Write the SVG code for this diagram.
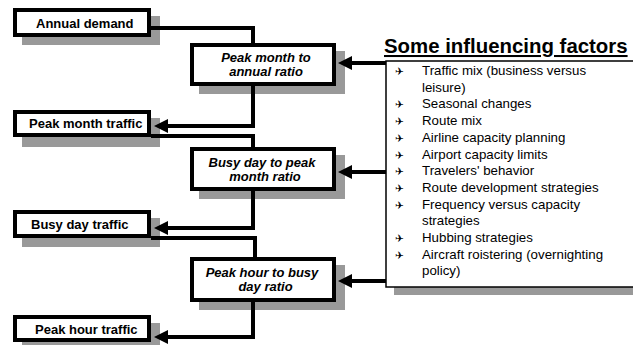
<svg xmlns="http://www.w3.org/2000/svg" width="633" height="345" viewBox="0 0 633 345">
<defs>
<style>
.box{fill:#fff;stroke:#000;stroke-width:4}
.sh{fill:#999}
.lbl{font-family:"Liberation Sans",Arial,sans-serif;font-weight:bold;font-size:13px;fill:#000}
.rat{font-family:"Liberation Sans",Arial,sans-serif;font-weight:bold;font-style:italic;font-size:13px;text-anchor:middle;fill:#000}
.conn{fill:none;stroke:#000;stroke-width:4}
.item{font-family:"Liberation Sans",Arial,sans-serif;font-size:13.3px;fill:#000}
.bul{font-family:"DejaVu Sans",sans-serif;font-size:10.5px;fill:#000}
.title{font-family:"Liberation Sans",Arial,sans-serif;font-weight:bold;font-size:20.4px;text-decoration:underline;fill:#000}
</style>
<marker id="ah" viewBox="0 0 14 14" refX="1" refY="7" markerWidth="14" markerHeight="14" markerUnits="userSpaceOnUse" orient="auto">
<path d="M0,0 L14,7 L0,14 z" fill="#000"/>
</marker>
</defs>
<rect width="633" height="345" fill="#fff"/>

<g id="factors">
<rect class="sh" x="394" y="69" width="300" height="226"/>
<rect x="386" y="61" width="300" height="226" fill="#fff" stroke="#000" stroke-width="1.5"/>
<text class="title" x="384" y="53">Some influencing factors</text>
<g class="bul">
<text x="395" y="75">✈</text>
<text x="395" y="108.4">✈</text>
<text x="395" y="125.1">✈</text>
<text x="395" y="141.8">✈</text>
<text x="395" y="158.5">✈</text>
<text x="395" y="175.2">✈</text>
<text x="395" y="191.9">✈</text>
<text x="395" y="208.6">✈</text>
<text x="395" y="242">✈</text>
<text x="395" y="258.7">✈</text>
</g>
<g class="item">
<text x="422" y="75">Traffic mix (business versus</text>
<text x="422" y="91.7">leisure)</text>
<text x="422" y="108.4">Seasonal changes</text>
<text x="422" y="125.1">Route mix</text>
<text x="422" y="141.8">Airline capacity planning</text>
<text x="422" y="158.5">Airport capacity limits</text>
<text x="422" y="175.2">Travelers' behavior</text>
<text x="422" y="191.9">Route development strategies</text>
<text x="422" y="208.6">Frequency versus capacity</text>
<text x="422" y="225.3">strategies</text>
<text x="422" y="242">Hubbing strategies</text>
<text x="422" y="258.7">Aircraft roistering (overnighting</text>
<text x="422" y="275.4">policy)</text>
</g>
</g>

<g id="annual-demand">
<rect class="sh" x="22" y="16" width="138" height="29"/>
<rect class="box" x="15" y="10" width="134" height="25"/>
<text class="lbl" x="36" y="28">Annual demand</text>
</g>
<g id="peak-month-traffic">
<rect class="sh" x="22" y="118" width="138" height="29"/>
<rect class="box" x="15" y="112" width="134" height="23"/>
<text class="lbl" x="29" y="128">Peak month traffic</text>
</g>
<g id="busy-day-traffic">
<rect class="sh" x="22" y="218" width="138" height="29"/>
<rect class="box" x="15" y="212" width="134" height="24"/>
<text class="lbl" x="31" y="229">Busy day traffic</text>
</g>
<g id="peak-hour-traffic">
<rect class="sh" x="22" y="323" width="138" height="29"/>
<rect class="box" x="15" y="317" width="134" height="23"/>
<text class="lbl" x="35" y="334">Peak hour traffic</text>
</g>

<g id="peak-month-ratio">
<rect class="sh" x="199" y="51" width="146" height="43"/>
<rect class="box" x="192" y="45" width="142" height="39"/>
<text class="rat" x="266" y="62">Peak month to</text>
<text class="rat" x="266" y="76">annual ratio</text>
</g>
<g id="busy-day-ratio">
<rect class="sh" x="199" y="155" width="146" height="44"/>
<rect class="box" x="192" y="149" width="142" height="40"/>
<text class="rat" x="262" y="166.5">Busy day to peak</text>
<text class="rat" x="265" y="180.5">month ratio</text>
</g>
<g id="peak-hour-ratio">
<rect class="sh" x="199" y="265" width="146" height="45"/>
<rect class="box" x="192" y="259" width="142" height="41"/>
<text class="rat" x="262" y="277">Peak hour to busy</text>
<text class="rat" x="265.5" y="291">day ratio</text>
</g>

<g id="connectors">
<path class="conn" d="M151,28 H253 V43"/>
<path class="conn" d="M253,86 V126 H167" marker-end="url(#ah)"/>
<path class="conn" d="M151,136 H253 V147"/>
<path class="conn" d="M253,191 V228 H167" marker-end="url(#ah)"/>
<path class="conn" d="M151,238 H255 V257"/>
<path class="conn" d="M253,302 V337 H167" marker-end="url(#ah)"/>
<path class="conn" d="M386,63 H351" marker-end="url(#ah)"/>
<path class="conn" d="M386,172 H351" marker-end="url(#ah)"/>
<path class="conn" d="M386,281 H351" marker-end="url(#ah)"/>
</g>
</svg>
